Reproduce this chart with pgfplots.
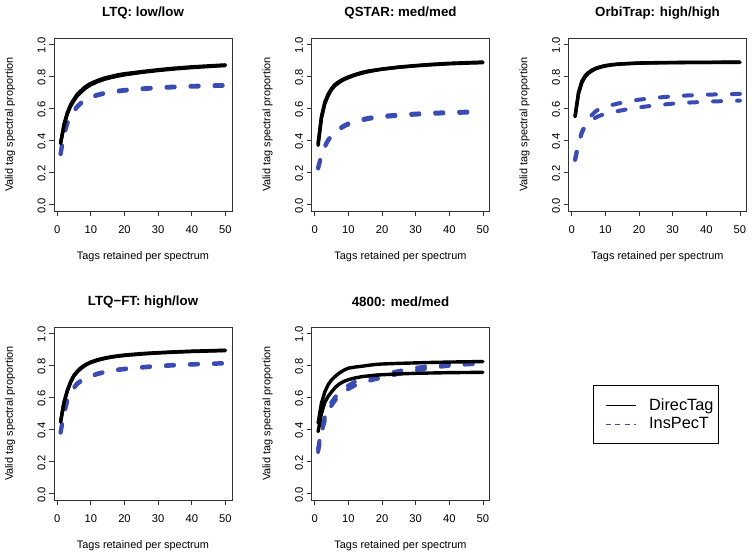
\documentclass[border=0pt]{standalone}
\usepackage{fontspec}
\setmainfont{Liberation Sans}
\usepackage{pgfplots}
\pgfplotsset{compat=1.18}
\definecolor{insblue}{RGB}{58,76,180}
\newcommand{\legfont}{\fontsize{16.3}{19}\selectfont}
\newcommand{\tickfont}{\fontsize{11.2}{13}\selectfont}
\newcommand{\labfont}{\fontsize{10.9}{13}\selectfont}
\pgfplotsset{
  panel/.style={
    scale only axis, width=178pt, height=173pt, anchor=south west,
    xmin=-0.96, xmax=51.96, ymin=-0.04, ymax=1.04,
    xtick={0,10,20,30,40,50}, ytick={0,0.2,0.4,0.6,0.8,1.0},
    xtick pos=left, ytick pos=left,
    tick align=outside, major tick length=5pt,
    axis line style={black!80, line width=0.8pt},
    tick style={black!80, line width=0.8pt},
    /pgf/number format/assume math mode=true,
    yticklabel style={font=\tickfont, rotate=90, anchor=south, xshift=-1pt, /pgf/number format/.cd, fixed, fixed zerofill, precision=1},
    xticklabel style={font=\tickfont, yshift=-6pt},
    title style={font=\bfseries\fontsize{13.3}{15}\selectfont, at={(axis description cs:0.5,1)}, anchor=center, yshift=19pt},
    xlabel={\labfont Tags retained per spectrum}, ylabel={\labfont Valid tag spectral proportion},
    every axis x label/.style={font=\labfont, at={(axis description cs:0.5,0)}, anchor=center, yshift=-46pt},
    every axis y label/.style={font=\labfont, at={(axis description cs:0,0.5)}, anchor=center, xshift=-44pt, rotate=90},
  },
  dt/.style={black, line width=3.4pt, line join=round, line cap=round, forget plot},
  ins/.style={insblue, line width=4pt, dash pattern=on 8pt off 16pt, line cap=round, line join=round, forget plot},
}
\begin{document}
\begin{tikzpicture}[x=1pt,y=1pt]
\useasboundingbox (0,0) rectangle (752,557);
% ---------------- LTQ
\begin{axis}[panel, at={(54pt,346pt)}, title={LTQ: low/low}]
\addplot[ins] coordinates {(1,0.32)(2,0.44)(3,0.51)(4,0.555)(5,0.59)(6,0.615)(7,0.635)(8,0.65)(9,0.662)(10,0.672)(12,0.687)(14,0.697)(16,0.705)(18,0.711)(20,0.716)(25,0.725)(30,0.732)(35,0.737)(40,0.741)(45,0.744)(50,0.747)};
\addplot[ins] coordinates {(1,0.315)(2,0.435)(3,0.505)(4,0.55)(5,0.585)(6,0.61)(7,0.63)(8,0.645)(9,0.657)(10,0.667)(12,0.682)(14,0.692)(16,0.7)(18,0.706)(20,0.711)(25,0.72)(30,0.727)(35,0.732)(40,0.736)(45,0.739)(50,0.742)};
\addplot[dt] coordinates {(1,0.385)(2,0.50)(3,0.575)(4,0.625)(5,0.66)(6,0.69)(7,0.71)(8,0.73)(9,0.745)(10,0.757)(12,0.775)(14,0.79)(16,0.80)(18,0.81)(20,0.817)(25,0.83)(30,0.842)(35,0.852)(40,0.86)(45,0.866)(50,0.872)};
\addplot[dt] coordinates {(1,0.38)(2,0.49)(3,0.565)(4,0.615)(5,0.65)(6,0.68)(7,0.70)(8,0.72)(9,0.735)(10,0.748)(12,0.767)(14,0.782)(16,0.793)(18,0.802)(20,0.81)(25,0.825)(30,0.837)(35,0.847)(40,0.855)(45,0.862)(50,0.868)};
\end{axis}
% ---------------- QSTAR
\begin{axis}[panel, at={(311.5pt,346pt)}, title={QSTAR: med/med}]
\addplot[ins] coordinates {(1,0.23)(2,0.31)(3,0.365)(4,0.405)(5,0.43)(6,0.452)(7,0.47)(8,0.485)(9,0.497)(10,0.507)(12,0.522)(14,0.533)(16,0.541)(18,0.548)(20,0.553)(25,0.562)(30,0.568)(35,0.573)(40,0.577)(45,0.58)(50,0.583)};
\addplot[ins] coordinates {(1,0.225)(2,0.305)(3,0.36)(4,0.4)(5,0.425)(6,0.446)(7,0.464)(8,0.479)(9,0.491)(10,0.5)(12,0.515)(14,0.526)(16,0.535)(18,0.541)(20,0.546)(25,0.555)(30,0.562)(35,0.567)(40,0.571)(45,0.574)(50,0.577)};
\addplot[dt] coordinates {(1,0.38)(2,0.55)(3,0.64)(4,0.69)(5,0.725)(6,0.75)(7,0.765)(8,0.778)(9,0.788)(10,0.797)(12,0.812)(14,0.825)(16,0.834)(18,0.84)(20,0.846)(25,0.859)(30,0.868)(35,0.876)(40,0.882)(45,0.886)(50,0.89)};
\addplot[dt] coordinates {(1,0.37)(2,0.54)(3,0.63)(4,0.68)(5,0.718)(6,0.742)(7,0.758)(8,0.772)(9,0.783)(10,0.792)(12,0.808)(14,0.82)(16,0.83)(18,0.838)(20,0.845)(25,0.857)(30,0.866)(35,0.873)(40,0.879)(45,0.883)(50,0.886)};
\end{axis}
% ---------------- OrbiTrap
\begin{axis}[panel, at={(568.5pt,346pt)}, title={OrbiTrap: high/high}]
\addplot[ins] coordinates {(1,0.28)(2,0.38)(3,0.45)(4,0.50)(5,0.535)(6,0.56)(7,0.58)(8,0.595)(9,0.605)(10,0.612)(12,0.622)(14,0.632)(16,0.64)(18,0.648)(20,0.655)(25,0.667)(30,0.676)(35,0.682)(40,0.686)(45,0.689)(50,0.691)};
\addplot[ins] coordinates {(1,0.28)(2,0.38)(3,0.45)(4,0.49)(5,0.515)(6,0.53)(7,0.542)(8,0.552)(9,0.56)(10,0.566)(12,0.576)(14,0.585)(16,0.593)(18,0.60)(20,0.607)(25,0.62)(30,0.63)(35,0.637)(40,0.642)(45,0.646)(50,0.649)};
\addplot[dt] coordinates {(1,0.55)(2,0.70)(3,0.77)(4,0.805)(5,0.826)(6,0.84)(7,0.85)(8,0.857)(9,0.863)(10,0.868)(12,0.874)(14,0.878)(16,0.88)(18,0.882)(20,0.884)(25,0.886)(30,0.887)(35,0.888)(40,0.888)(45,0.889)(50,0.889)};
\addplot[dt] coordinates {(1,0.55)(2,0.69)(3,0.76)(4,0.798)(5,0.82)(6,0.835)(7,0.846)(8,0.854)(9,0.86)(10,0.865)(12,0.872)(14,0.876)(16,0.879)(18,0.881)(20,0.883)(25,0.885)(30,0.886)(35,0.887)(40,0.887)(45,0.888)(50,0.888)};
\end{axis}
% ---------------- LTQ-FT
\begin{axis}[panel, at={(54pt,57pt)}, title={LTQ−FT: high/low}]
\addplot[ins] coordinates {(1,0.385)(2,0.50)(3,0.585)(4,0.635)(5,0.665)(6,0.69)(7,0.705)(8,0.717)(9,0.727)(10,0.735)(12,0.75)(14,0.76)(16,0.768)(18,0.775)(20,0.78)(25,0.79)(30,0.798)(35,0.804)(40,0.808)(45,0.812)(50,0.815)};
\addplot[ins] coordinates {(1,0.38)(2,0.495)(3,0.58)(4,0.63)(5,0.66)(6,0.685)(7,0.70)(8,0.713)(9,0.723)(10,0.731)(12,0.746)(14,0.756)(16,0.764)(18,0.771)(20,0.776)(25,0.786)(30,0.794)(35,0.8)(40,0.805)(45,0.809)(50,0.812)};
\addplot[dt] coordinates {(1,0.45)(2,0.57)(3,0.645)(4,0.70)(5,0.74)(6,0.765)(7,0.785)(8,0.80)(9,0.812)(10,0.822)(12,0.836)(14,0.846)(16,0.854)(18,0.86)(20,0.865)(25,0.874)(30,0.88)(35,0.885)(40,0.889)(45,0.892)(50,0.895)};
\addplot[dt] coordinates {(1,0.445)(2,0.565)(3,0.64)(4,0.695)(5,0.735)(6,0.76)(7,0.78)(8,0.795)(9,0.808)(10,0.818)(12,0.832)(14,0.843)(16,0.851)(18,0.857)(20,0.862)(25,0.871)(30,0.878)(35,0.883)(40,0.887)(45,0.89)(50,0.893)};
\end{axis}
% ---------------- 4800
\begin{axis}[panel, at={(311.5pt,57pt)}, title={4800: med/med},
  legend style={at={(axis description cs:1.5815,0.6647)}, anchor=north west, draw=black, line width=0.7pt,
    font=\legfont, inner xsep=3pt, inner ysep=11pt, row sep=2pt,
    cells={anchor=west}, column sep=11pt}]
\addplot[ins] coordinates {(1,0.28)(2,0.40)(3,0.475)(4,0.53)(5,0.57)(6,0.60)(7,0.625)(8,0.645)(9,0.66)(10,0.675)(12,0.698)(14,0.713)(16,0.725)(18,0.735)(20,0.743)(25,0.765)(30,0.785)(35,0.798)(40,0.808)(45,0.815)(50,0.82)};
\addplot[ins] coordinates {(1,0.26)(2,0.38)(3,0.455)(4,0.51)(5,0.55)(6,0.58)(7,0.605)(8,0.625)(9,0.64)(10,0.653)(12,0.675)(14,0.69)(16,0.703)(18,0.714)(20,0.724)(25,0.748)(30,0.77)(35,0.787)(40,0.798)(45,0.806)(50,0.812)};
\addplot[dt] coordinates {(1,0.44)(2,0.565)(3,0.635)(4,0.68)(5,0.71)(6,0.73)(7,0.748)(8,0.762)(9,0.774)(10,0.783)(12,0.79)(14,0.795)(16,0.801)(18,0.806)(20,0.809)(25,0.813)(30,0.816)(35,0.819)(40,0.821)(45,0.823)(50,0.824)};
\addplot[dt] coordinates {(1,0.387)(2,0.50)(3,0.57)(4,0.607)(5,0.635)(6,0.66)(7,0.68)(8,0.693)(9,0.703)(10,0.711)(12,0.722)(14,0.73)(16,0.735)(18,0.739)(20,0.742)(25,0.747)(30,0.751)(35,0.753)(40,0.755)(45,0.756)(50,0.757)};
\addlegendimage{legend image code/.code={\path (0pt,0pt); \draw[black, line width=0.9pt] (9pt,0pt) -- (39pt,0pt);}}
\addlegendentry{\legfont DirecTag}
\addlegendimage{legend image code/.code={\path (0pt,0pt); \draw[insblue, line width=0.9pt, dash pattern=on 5pt off 4.5pt] (9pt,0pt) -- (39pt,0pt);}}
\addlegendentry{\legfont InsPecT}
\end{axis}
\end{tikzpicture}
\end{document}
